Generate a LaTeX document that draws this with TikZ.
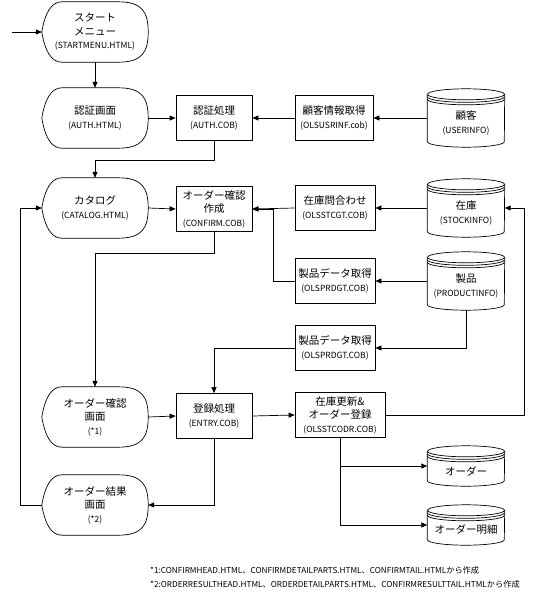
\documentclass[tikz,border=0pt]{standalone}
\usepackage{fontspec}
\setmainfont{Noto Sans CJK JP}
\usetikzlibrary{arrows.meta,calc}
\newcommand\mysm[1]{{\fontsize{8.5}{13.5}\selectfont #1}}
\tikzset{
  lin/.style={line width=0.7pt},
  arr/.style={lin,-{Triangle[length=6pt,width=5pt]}},
  txt/.style={align=center,inner sep=0pt,font=\fontsize{10.5}{13.5}\selectfont},
  procbox/.style={txt,draw,line width=0.7pt,minimum height=45pt},
  dispbox/.style={txt,minimum width=106pt,minimum height=60pt},
  cylbox/.style={minimum width=77pt,inner sep=0pt},
  note/.style={anchor=west,inner sep=0pt,font=\fontsize{8.2}{10}\selectfont}
}
\newcommand\dispshape[1]{%
  \draw[lin] (#1.west) .. controls ($(#1.west)+(3,-18)$) and ($(#1.north west)+(9,0)$) .. ($(#1.north west)+(20,0)$)
   -- ($(#1.north east)+(-30,0)$) .. controls ($(#1.north east)+(-6,0)$) and ($(#1.east)+(0,-20)$) .. (#1.east)
   .. controls ($(#1.east)+(0,20)$) and ($(#1.south east)+(-6,0)$) .. ($(#1.south east)+(-30,0)$)
   -- ($(#1.south west)+(20,0)$) .. controls ($(#1.south west)+(9,0)$) and ($(#1.west)+(3,18)$) .. (#1.west);}
\newcommand\cyl[5]{%
  \node[cylbox,minimum height=#4] (#1) at (#2,#3) {};
  \draw[lin] ($(#1.north west)+(0,5.5)$) -- ($(#1.south west)+(0,-5.5)$)
     arc[start angle=180,end angle=360,x radius=38.5pt,y radius=5.5pt] -- ($(#1.north east)+(0,5.5)$);
  \draw[lin] ($(#1.north)+(0,5.5)$) ellipse[x radius=38.5pt,y radius=5.5pt];
  \draw[lin] ($(#1.north west)+(0,8)$) arc[start angle=180,end angle=360,x radius=38.5pt,y radius=5.5pt];
  \draw[lin] ($(#1.north west)+(0,10.5)$) arc[start angle=180,end angle=360,x radius=38.5pt,y radius=5.5pt];
  \node[txt] (#1-t) at ($(#1.center)+(0,5)$) {#5};}
\begin{document}
\begin{tikzpicture}[x=1pt,y=-1pt]
\path[use as bounding box] (0,0) rectangle (546,600);
% display shapes
\node[dispbox] (start) at (95,32) {スタート\\メニュー\\\mysm{(STARTMENU.HTML)}};
\node[dispbox] (authscr) at (95,118) {認証画面\\\mysm{(AUTH.HTML)}};
\node[dispbox] (catalog) at (95,208) {カタログ\\\mysm{(CATALOG.HTML)}};
\node[dispbox] (confscr) at (95,417) {オーダー確認\\画面\\\mysm{(*1)}};
\node[dispbox] (result) at (95,505) {オーダー結果\\画面\\\mysm{(*2)}};
\foreach \n in {start,authscr,catalog,confscr,result} {\dispshape{\n}}
% process boxes
\node[procbox,minimum width=76pt] (authbox) at (214,118) {認証処理\\\mysm{(AUTH.COB)}};
\node[procbox,minimum width=78pt] (custget) at (334,118) {顧客情報取得\\\mysm{(OLSUSRINF.cob)}};
\node[procbox,minimum width=76pt] (confbox) at (214,209) {オーダー確認\\作成\\\mysm{(CONFIRM.COB)}};
\node[procbox,minimum width=80pt] (stockq) at (335,208) {在庫問合わせ\\\mysm{(OLSSTCGT.COB)}};
\node[procbox,minimum width=80pt] (prod1) at (335,281) {製品データ取得\\\mysm{(OLSPRDGT.COB)}};
\node[procbox,minimum width=80pt] (prod2) at (335,348) {製品データ取得\\\mysm{(OLSPRDGT.COB)}};
\node[procbox,minimum width=76pt] (entry) at (214,416) {登録処理\\\mysm{(ENTRY.COB)}};
\node[procbox,minimum width=90pt] (stockupd) at (340,415) {在庫更新\&\\オーダー登録\\\mysm{(OLSSTCODR.COB)}};
% databases
\cyl{custdb}{466}{118}{58pt}{顧客\\\mysm{(USERINFO)}}
\cyl{stockdb}{466}{208}{58pt}{在庫\\\mysm{(STOCKINFO)}}
\cyl{proddb}{466}{281}{58pt}{製品\\\mysm{(PRODUCTINFO)}}
\cyl{orderdb}{466}{466}{40pt}{オーダー}
\cyl{detaildb}{466}{525}{40pt}{オーダー明細}
% connectors
\coordinate (in) at (12,32);
\draw[arr] (in) -- (start.west);
\draw[arr] (start.south) -- (authscr.north);
\draw[arr] (authscr.east) -- (authbox.west);
\draw[arr] (custdb.west) -- (custget.east);
\draw[arr] (custget.west) -- (authbox.east);
\draw[arr] (authbox.south) -- ++(0,19) -| (catalog.north);
\draw[arr] (catalog.east) -- (confbox.west);
\draw[arr] (stockdb.west) -- (stockq.east);
\draw[arr] (stockq.west) -- (confbox.east);
\draw[arr] (prod1.west) -| ($(confbox.east)+(21,0)$) -- (confbox.east);
\draw[arr] (proddb.west) -- (prod1.east);
\draw[arr] (proddb.south) |- (prod2.east);
\draw[arr] (prod2.west) -| (entry.north);
\draw[arr] (confbox.south) -- ++(0,21) -| (confscr.north);
\draw[arr] (confscr.east) -- (entry.west);
\draw[arr] (entry.east) -- (stockupd.west);
\draw[arr] (stockupd.east) -| ($(stockdb.east)+(20,0)$) -- (stockdb.east);
\draw[arr] (stockupd.south) |- (orderdb.west);
\draw[arr] (stockupd.south) |- (detaildb.west);
\draw[arr] (entry.south) |- (result.east);
\draw[arr] (result.west) -- ++(-21,0) |- (catalog.west);
% notes
\node[note] (note1) at (150,570) {*1:CONFIRMHEAD.HTML、CONFIRMDETAILPARTS.HTML、CONFIRMTAIL.HTMLから作成};
\node[note] (note2) at (150,584) {*2:ORDERRESULTHEAD.HTML、ORDERDETAILPARTS.HTML、CONFIRMRESULTTAIL.HTMLから作成};
\end{tikzpicture}
\end{document}
